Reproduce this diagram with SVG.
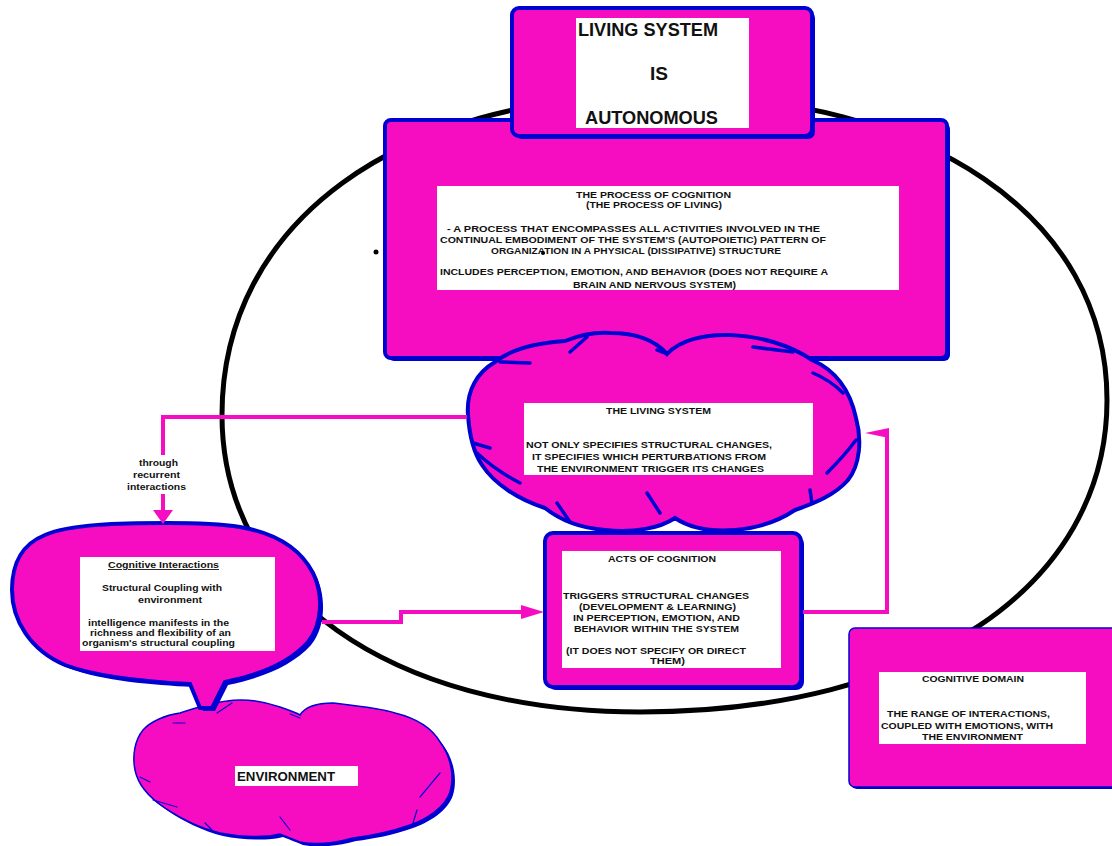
<svg xmlns="http://www.w3.org/2000/svg" width="1112" height="846" viewBox="0 0 1112 846">
  <defs>
    <style>
      .box { fill: #F70DC1; stroke: #0000D0; stroke-width: 4; }
      .shadow { fill: #0000D0; }
      .thin { fill: #F70DC1; stroke: #0000D0; stroke-width: 1.5; }
      .panel { fill: #ffffff; }
      .crease { fill: none; stroke: #0000D0; stroke-width: 3.5; stroke-linecap: round; }
      .crease-thin { fill: none; stroke: #0000D0; stroke-width: 1.2; stroke-linecap: round; }
      .wire { fill: none; stroke: #F70DC1; stroke-width: 4; }
      .head { fill: #F70DC1; }
      .t { font-family: "Liberation Sans", Arial, sans-serif; font-weight: bold; font-size: 9px; fill: #111; }
      .big { font-family: "Liberation Sans", Arial, sans-serif; font-weight: bold; font-size: 18px; fill: #111; }
      .env { font-family: "Liberation Sans", Arial, sans-serif; font-weight: bold; font-size: 13px; fill: #111; }
    </style>
  </defs>

  <rect width="1112" height="846" fill="#ffffff"/>

  <!-- boundary of the living system -->
  <path id="boundary" d="M 222,415 C 222,223 397,95 660,95 C 928,95 1107,217 1107,400 C 1107,587 920,712 640,712 C 389,712 222,593 222,415 Z" fill="none" stroke="#000" stroke-width="5"/>
  <circle cx="376" cy="252" r="2.5" fill="#000"/>

  <!-- process of cognition -->
  <g id="process">
    <rect class="shadow" x="388" y="123" width="562" height="238" rx="6"/>
    <rect class="box" x="385" y="120" width="562" height="238" rx="6"/>
    <rect class="panel" x="437" y="186" width="462" height="104"/>
    <text class="t" x="576" y="198" textLength="155" lengthAdjust="spacingAndGlyphs">THE PROCESS OF COGNITION</text>
    <text class="t" x="586" y="208" textLength="136" lengthAdjust="spacingAndGlyphs">(THE PROCESS OF LIVING)</text>
    <text class="t" x="447" y="232" textLength="373" lengthAdjust="spacingAndGlyphs">- A PROCESS THAT ENCOMPASSES ALL ACTIVITIES INVOLVED IN THE</text>
    <text class="t" x="440" y="243" textLength="386" lengthAdjust="spacingAndGlyphs">CONTINUAL EMBODIMENT OF THE SYSTEM'S (AUTOPOIETIC) PATTERN OF</text>
    <text class="t" x="491" y="254" textLength="290" lengthAdjust="spacingAndGlyphs">ORGANIZATION IN A PHYSICAL (DISSIPATIVE) STRUCTURE</text>
    <circle cx="543" cy="253" r="2" fill="#000"/>
    <text class="t" x="440" y="275" textLength="388" lengthAdjust="spacingAndGlyphs">INCLUDES PERCEPTION, EMOTION, AND BEHAVIOR (DOES NOT REQUIRE A</text>
    <text class="t" x="573" y="288" textLength="163" lengthAdjust="spacingAndGlyphs">BRAIN AND NERVOUS SYSTEM)</text>
  </g>

  <!-- living system is autonomous -->
  <g id="autonomous">
    <rect class="shadow" x="515" y="11" width="300" height="128" rx="7"/>
    <rect class="box" x="512" y="8" width="300" height="128" rx="7"/>
    <rect class="panel" x="576" y="18" width="173" height="110"/>
    <text class="big" x="578" y="36" textLength="140" lengthAdjust="spacingAndGlyphs">LIVING SYSTEM</text>
    <text class="big" x="650" y="80" textLength="18" lengthAdjust="spacingAndGlyphs">IS</text>
    <text class="big" x="585" y="124" textLength="133" lengthAdjust="spacingAndGlyphs">AUTONOMOUS</text>
  </g>

  <!-- the living system cloud -->
  <g id="living-system">
    <path class="box" d="M 468,415 C 466,390 478,372 495,362 C 510,350 535,343 565,341 C 580,335 595,332 610,333 C 635,333 655,340 667,354 C 680,340 705,334 730,335 C 760,336 790,345 812,360 C 835,370 850,390 856,418 C 862,440 860,465 848,480 C 835,495 815,503 795,510 C 780,520 760,528 735,530 C 710,532 690,528 675,518 C 660,528 635,533 605,530 C 580,528 560,520 545,508 C 520,500 495,485 482,465 C 472,450 469,430 468,415 Z"/>
    <path class="crease" d="M 500,362 L 530,363 M 570,352 L 587,337 M 657,350 L 667,354 M 753,347 L 793,352 M 813,373 Q 830,380 843,393 M 473,443 L 490,448 M 477,453 Q 495,470 520,483 M 557,503 L 570,522 M 647,493 L 660,513 M 827,473 Q 845,455 856,440 M 810,490 L 812,503"/>
    <rect class="panel" x="524" y="403" width="289" height="72"/>
    <text class="t" x="606" y="414" textLength="105" lengthAdjust="spacingAndGlyphs">THE LIVING SYSTEM</text>
    <text class="t" x="526" y="448" textLength="246" lengthAdjust="spacingAndGlyphs">NOT ONLY SPECIFIES STRUCTURAL CHANGES,</text>
    <text class="t" x="532" y="460" textLength="234" lengthAdjust="spacingAndGlyphs">IT SPECIFIES WHICH PERTURBATIONS FROM</text>
    <text class="t" x="537" y="472" textLength="227" lengthAdjust="spacingAndGlyphs">THE ENVIRONMENT TRIGGER ITS CHANGES</text>
  </g>

  <!-- acts of cognition -->
  <g id="acts">
    <rect class="shadow" x="548" y="536" width="256" height="154" rx="8"/>
    <rect class="box" x="545" y="533" width="256" height="154" rx="8" stroke-width="5"/>
    <rect class="panel" x="562" y="551" width="219" height="117"/>
    <text class="t" x="608" y="562" textLength="108" lengthAdjust="spacingAndGlyphs">ACTS OF COGNITION</text>
    <text class="t" x="563" y="599" textLength="186" lengthAdjust="spacingAndGlyphs">TRIGGERS STRUCTURAL CHANGES</text>
    <text class="t" x="579" y="610" textLength="157" lengthAdjust="spacingAndGlyphs">(DEVELOPMENT &amp; LEARNING)</text>
    <text class="t" x="573" y="621" textLength="167" lengthAdjust="spacingAndGlyphs">IN PERCEPTION, EMOTION, AND</text>
    <text class="t" x="574" y="632" textLength="165" lengthAdjust="spacingAndGlyphs">BEHAVIOR WITHIN THE SYSTEM</text>
    <text class="t" x="566" y="654" textLength="180" lengthAdjust="spacingAndGlyphs">(IT DOES NOT SPECIFY OR DIRECT</text>
    <text class="t" x="650" y="664" textLength="35" lengthAdjust="spacingAndGlyphs">THEM)</text>
  </g>

  <!-- environment cloud -->
  <g id="environment">
    <path class="shadow" transform="translate(3,3)" d="M 143,730 C 150,722 165,715 180,713 C 195,708 210,703 227,701 C 245,698 265,702 280,707 C 288,710 295,712 300,715 C 305,707 315,703 333,703 C 350,705 380,708 395,713 C 415,718 432,728 440,742 C 450,755 455,775 450,792 C 445,808 425,820 410,825 C 390,832 370,836 353,838 C 335,843 315,845 300,842 C 290,838 285,836 280,834 C 265,838 240,837 220,833 C 200,828 180,818 165,808 C 150,798 138,785 135,770 C 132,755 135,740 143,730 Z"/>
    <path class="thin" d="M 143,730 C 150,722 165,715 180,713 C 195,708 210,703 227,701 C 245,698 265,702 280,707 C 288,710 295,712 300,715 C 305,707 315,703 333,703 C 350,705 380,708 395,713 C 415,718 432,728 440,742 C 450,755 455,775 450,792 C 445,808 425,820 410,825 C 390,832 370,836 353,838 C 335,843 315,845 300,842 C 290,838 285,836 280,834 C 265,838 240,837 220,833 C 200,828 180,818 165,808 C 150,798 138,785 135,770 C 132,755 135,740 143,730 Z"/>
    <path class="crease-thin" d="M 140,777 L 150,782 M 153,800 L 177,807 M 205,823 L 212,830 M 280,817 L 290,830 M 420,797 L 440,773 M 413,823 L 417,810 M 173,723 L 185,723 M 217,713 L 232,703 M 290,714 L 300,718"/>
    <rect class="panel" x="235" y="766" width="123" height="20"/>
    <text class="env" x="237" y="781" textLength="98" lengthAdjust="spacingAndGlyphs">ENVIRONMENT</text>
  </g>

  <!-- cognitive interactions bubble -->
  <g id="interactions">
    <path class="shadow" transform="translate(3,3)" d="M 167,523 C 120,523 70,524 45,535 C 20,545 12,565 12,590 C 12,620 30,650 65,665 C 100,678 150,682 190,684 L 200,708 L 212,708 L 225,682 C 260,675 290,662 308,642 C 322,625 324,595 313,573 C 300,548 275,533 240,527 C 215,523 190,523 167,523 Z"/>
    <path class="box" d="M 167,523 C 120,523 70,524 45,535 C 20,545 12,565 12,590 C 12,620 30,650 65,665 C 100,678 150,682 190,684 L 200,708 L 212,708 L 225,682 C 260,675 290,662 308,642 C 322,625 324,595 313,573 C 300,548 275,533 240,527 C 215,523 190,523 167,523 Z"/>
    <rect class="panel" x="80" y="557" width="195" height="94"/>
    <text class="t" x="108" y="568" textLength="111" lengthAdjust="spacingAndGlyphs" text-decoration="underline">Cognitive Interactions</text>
    <text class="t" x="102" y="591" textLength="120" lengthAdjust="spacingAndGlyphs">Structural Coupling with</text>
    <text class="t" x="138" y="603" textLength="64" lengthAdjust="spacingAndGlyphs">environment</text>
    <text class="t" x="88" y="626" textLength="141" lengthAdjust="spacingAndGlyphs">intelligence manifests in the</text>
    <text class="t" x="90" y="636" textLength="141" lengthAdjust="spacingAndGlyphs">richness and flexibility of an</text>
    <text class="t" x="82" y="646" textLength="153" lengthAdjust="spacingAndGlyphs">organism's structural coupling</text>
  </g>

  <!-- cognitive domain -->
  <g id="domain">
    <rect class="shadow" x="851" y="630" width="275" height="159" rx="6"/>
    <rect class="thin" x="849" y="628" width="275" height="159" rx="6"/>
    <rect class="panel" x="879" y="672" width="207" height="72"/>
    <text class="t" x="922" y="682" textLength="102" lengthAdjust="spacingAndGlyphs">COGNITIVE DOMAIN</text>
    <text class="t" x="887" y="717" textLength="163" lengthAdjust="spacingAndGlyphs">THE RANGE OF INTERACTIONS,</text>
    <text class="t" x="881" y="729" textLength="172" lengthAdjust="spacingAndGlyphs">COUPLED WITH EMOTIONS, WITH</text>
    <text class="t" x="922" y="740" textLength="101" lengthAdjust="spacingAndGlyphs">THE ENVIRONMENT</text>
  </g>

  <!-- connectors -->
  <g id="connectors">
    <path class="wire" d="M 467,417 L 163,417 L 163,455"/>
    <path class="wire" d="M 163,494 L 163,512"/>
    <polygon class="head" points="153,510 173,510 163,524"/>
    <text class="t" x="139" y="466" textLength="39" lengthAdjust="spacingAndGlyphs">through</text>
    <text class="t" x="133" y="478" textLength="47" lengthAdjust="spacingAndGlyphs">recurrent</text>
    <text class="t" x="127" y="490" textLength="59" lengthAdjust="spacingAndGlyphs">interactions</text>

    <path class="wire" d="M 322,622 L 401,622 L 401,612 L 524,612"/>
    <polygon class="head" points="521,605 544,612 521,619"/>

    <path class="wire" d="M 803,612 L 887,612 L 887,433 L 884,433"/>
    <polygon class="head" points="865,433 889,428 889,438"/>
  </g>
</svg>
